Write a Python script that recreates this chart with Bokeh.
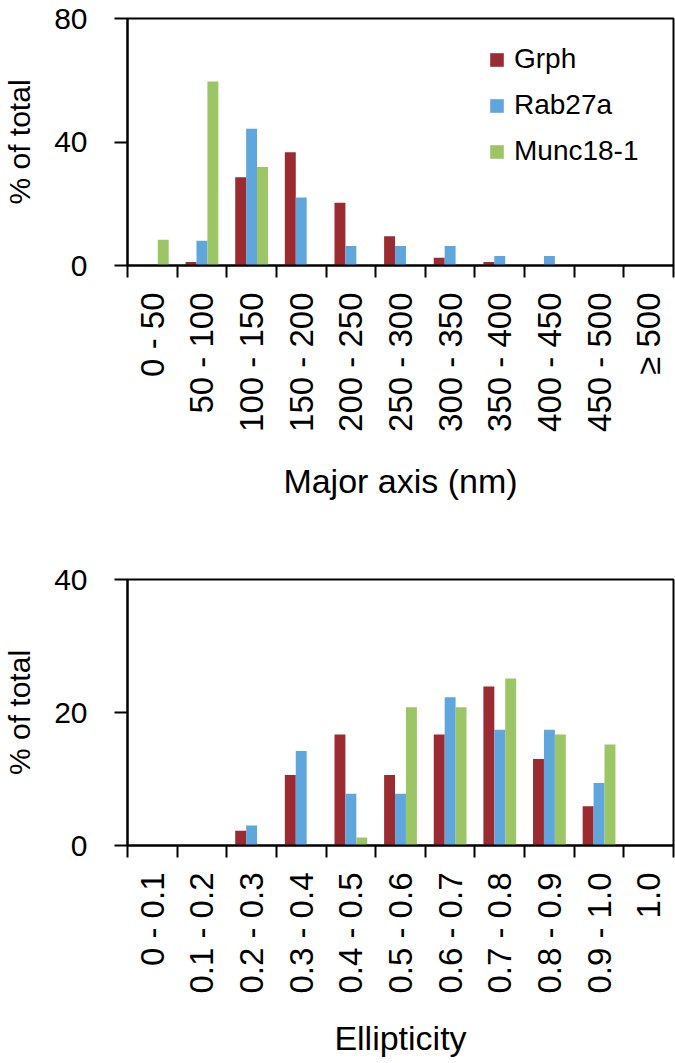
import math
from bokeh.plotting import figure
from bokeh.models import ColumnDataSource, Range1d, FixedTicker
from bokeh.transform import dodge
from bokeh.layouts import column
from bokeh.embed import file_html
from bokeh.resources import INLINE

# ---------------- data ----------------
major_cats = ["0 - 50", "50 - 100", "100 - 150", "150 - 200", "200 - 250",
              "250 - 300", "300 - 350", "350 - 400", "400 - 450", "450 - 500",
              "\u2265 500"]
major_grph = [0, 1.1, 28.6, 36.7, 20.3, 9.5, 2.5, 1.1, 0, 0, 0]
major_rab27a = [0, 8.0, 44.3, 22.0, 6.3, 6.3, 6.3, 3.1, 3.1, 0, 0]
major_munc = [8.3, 59.6, 31.9, 0, 0, 0, 0, 0, 0, 0, 0]
major_yticks = [0, 40, 80]

ell_cats = ["0 - 0.1", "0.1 - 0.2", "0.2 - 0.3", "0.3 - 0.4", "0.4 - 0.5",
            "0.5 - 0.6", "0.6 - 0.7", "0.7 - 0.8", "0.8 - 0.9", "0.9 - 1.0",
            "1.0"]
ell_grph = [0, 0, 2.2, 10.6, 16.7, 10.6, 16.7, 23.9, 13.0, 5.9, 0]
ell_rab27a = [0, 0, 3.0, 14.2, 7.8, 7.8, 22.3, 17.4, 17.4, 9.4, 0]
ell_munc = [0, 0, 0, 0, 1.2, 20.8, 20.8, 25.1, 16.7, 15.2, 0]
ell_yticks = [0, 20, 40]

series_names = ["Grph", "Rab27a", "Munc18-1"]
colors = ["#9A2B31", "#5EA6DC", "#9CC565"]

FONT = "Liberation Sans"
BAR_W = 0.22


def make_chart(cats, grph, rab, munc, yticks, xtitle, height, top, bottom,
               title_standoff, show_legend):
    n = len(cats)
    centers = [i + 0.5 for i in range(n)]
    edges = list(range(n + 1))
    src = ColumnDataSource(dict(pos=centers, grph=grph, rab=rab, munc=munc))
    p = figure(x_range=Range1d(0, n), y_range=Range1d(yticks[0], yticks[-1]),
               width=675, height=height, output_backend="svg",
               toolbar_location=None,
               min_border_left=125, min_border_right=2,
               min_border_top=top, min_border_bottom=bottom)
    p.xgrid.visible = False
    p.ygrid.visible = False
    p.outline_line_color = "black"
    p.outline_line_width = 2
    p.outline_line_alpha = 1

    fields = ["grph", "rab", "munc"]
    offsets = [-BAR_W, 0, BAR_W]
    for f, off, c, name in zip(fields, offsets, colors, series_names):
        kw = dict(legend_label=name) if show_legend else {}
        p.vbar(x=dodge("pos", off), top=f, width=BAR_W,
               source=src, fill_color=c, line_color=None, **kw)

    # y axis
    ya = p.yaxis[0]
    ya.ticker = FixedTicker(ticks=yticks)
    ya.minor_tick_line_color = None
    ya.major_tick_in = 0
    ya.major_tick_out = 13
    ya.major_tick_line_width = 2
    ya.axis_line_width = 2
    ya.major_label_standoff = 27
    ya.major_label_text_font = FONT
    ya.major_label_text_font_size = "30px"
    ya.major_label_text_color = "black"
    ya.axis_label = "% of total"
    ya.axis_label_text_font = FONT
    ya.axis_label_text_font_size = "30px"
    ya.axis_label_text_font_style = "normal"
    ya.axis_label_text_color = "black"
    ya.axis_label_standoff = 15

    # x axis: labels at category centres, tick marks (minor) at boundaries
    xa = p.xaxis[0]
    xa.ticker = FixedTicker(ticks=centers, minor_ticks=edges)
    xa.major_label_overrides = {c: lab for c, lab in zip(centers, cats)}
    xa.axis_line_width = 2
    xa.major_tick_line_color = None
    xa.major_tick_out = 12
    xa.major_tick_in = 0
    xa.minor_tick_line_color = "black"
    xa.minor_tick_line_width = 2
    xa.minor_tick_out = 12
    xa.minor_tick_in = 0
    xa.major_label_orientation = math.pi / 2
    xa.major_label_standoff = 15
    xa.major_label_text_font = FONT
    xa.major_label_text_font_size = "33px"
    xa.major_label_text_color = "black"
    xa.axis_label = xtitle
    xa.axis_label_text_font = FONT
    xa.axis_label_text_font_size = "34px"
    xa.axis_label_text_font_style = "normal"
    xa.axis_label_text_color = "black"
    xa.axis_label_standoff = title_standoff

    if show_legend:
        lg = p.legend[0]
        lg.location = (361, 98)
        lg.border_line_color = None
        lg.background_fill_alpha = 0
        lg.padding = 0
        lg.margin = 0
        lg.glyph_width = 17
        lg.glyph_height = 17
        lg.label_standoff = 9
        lg.spacing = 14
        lg.label_text_font = FONT
        lg.label_text_font_size = "28px"
        lg.label_text_color = "black"
    return p


p1 = make_chart(major_cats, major_grph, major_rab27a, major_munc, major_yticks,
                "Major axis (nm)", 540, 18, 275, 27, True)
p2 = make_chart(ell_cats, ell_grph, ell_rab27a, ell_munc, ell_yticks,
                "Ellipticity", 523, 39, 218, 22, False)

layout = column(p1, p2, spacing=0)
open("out.html", "w").write(file_html(layout, INLINE))
